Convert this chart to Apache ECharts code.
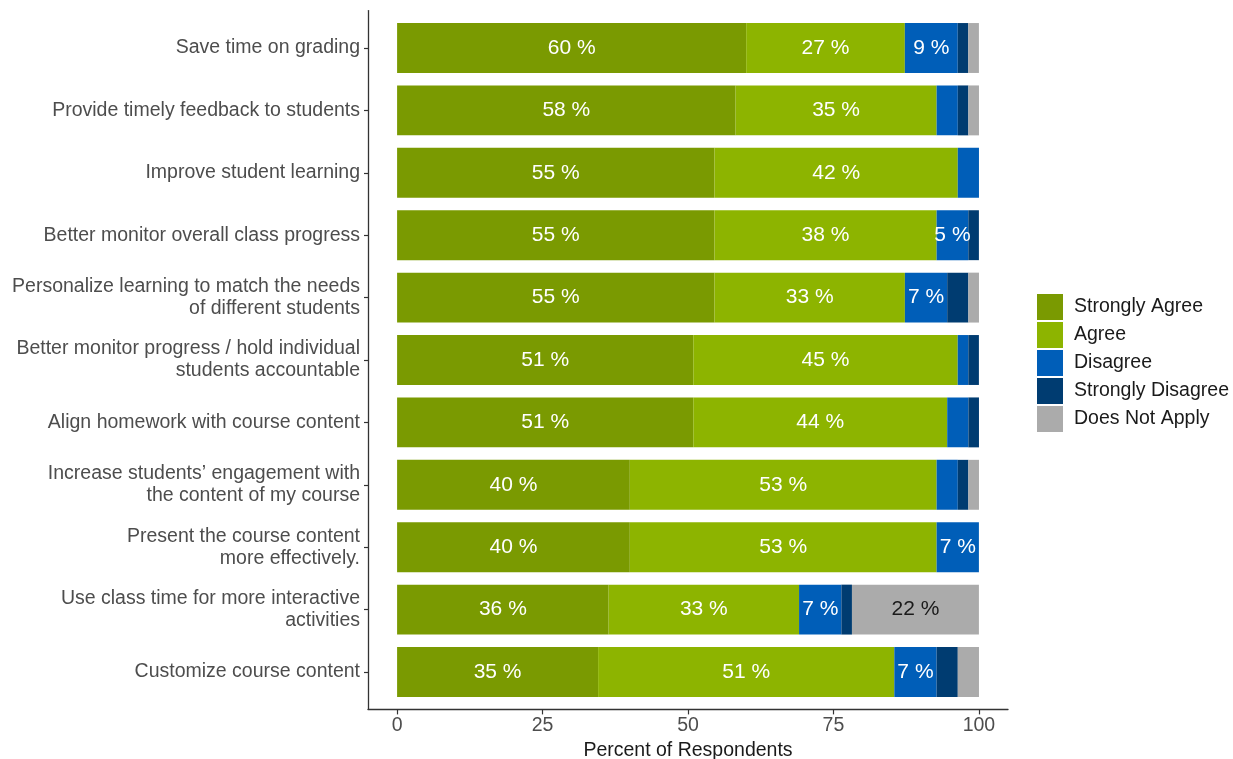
<!DOCTYPE html>
<html>
<head>
<meta charset="utf-8">
<script src="https://cdn.jsdelivr.net/npm/echarts@6/dist/echarts.min.js"></script>
<style>
  html, body { margin: 0; padding: 0; background: #ffffff; }
  #chart { width: 1233px; height: 759px; }
</style>
</head>
<body>
<div id="chart"></div>
<script>
// Survey statements, listed top to bottom
const statements = [
  'Save time on grading',
  'Provide timely feedback to students',
  'Improve student learning',
  'Better monitor overall class progress',
  'Personalize learning to match the needs\nof different students',
  'Better monitor progress / hold individual\nstudents accountable',
  'Align homework with course content',
  'Increase students\u2019 engagement with\nthe content of my course',
  'Present the course content\nmore effectively.',
  'Use class time for more interactive\nactivities',
  'Customize course content'
];

// Percent of respondents per response level
const stronglyAgree    = [60.00, 58.18, 54.55, 54.55, 54.55, 50.91, 50.91, 40.00, 40.00, 36.36, 34.55];
const agree            = [27.27, 34.55, 41.82, 38.18, 32.73, 45.45, 43.64, 52.73, 52.73, 32.73, 50.91];
const disagree         = [ 9.09,  3.64,  3.64,  5.45,  7.27,  1.82,  3.64,  3.64,  7.27,  7.27,  7.27];
const stronglyDisagree = [ 1.82,  1.82,  0.00,  1.82,  3.64,  1.82,  1.82,  1.82,  0.00,  1.82,  3.64];
const doesNotApply     = [ 1.82,  1.82,  0.00,  0.00,  1.82,  0.00,  0.00,  1.82,  0.00, 21.82,  3.64];

const xTicks = [0, 25, 50, 75, 100];

const levels = [
  { name: 'Strongly Agree',    data: stronglyAgree,    color: '#7A9A01', text: '#ffffff' },
  { name: 'Agree',             data: agree,            color: '#8DB400', text: '#ffffff' },
  { name: 'Disagree',          data: disagree,         color: '#005EB8', text: '#ffffff' },
  { name: 'Strongly Disagree', data: stronglyDisagree, color: '#003C71', text: '#ffffff' },
  { name: 'Does Not Apply',    data: doesNotApply,     color: '#ABABAB', text: '#1a1a1a' }
];

const FONT = '"Liberation Sans", Arial, sans-serif';
const FS = 19.5;
const chart = echarts.init(document.getElementById('chart'), null, { renderer: 'canvas' });

const option = {
  animation: false,
  textStyle: { fontFamily: FONT },
  legend: {
    orient: 'vertical',
    left: 1037,
    top: 294,
    padding: 0,
    itemWidth: 26,
    itemHeight: 26,
    itemGap: 2,
    icon: 'rect',
    selectedMode: false,
    textStyle: { fontSize: FS, color: '#1a1a1a', fontFamily: FONT, padding: [0, 0, 0, 6] },
    data: levels.map(l => l.name)
  },
  grid: [
    // bars
    { left: 368, right: 225, top: 16.8, bottom: 55.8, outerBoundsMode: 'none', containLabel: false },
    // axis frame (extends by 0.6 of a band above and below)
    { left: 368, right: 225, top: 10.6, bottom: 49.6, outerBoundsMode: 'none', containLabel: false }
  ],
  xAxis: [
    { gridIndex: 0, type: 'value', min: -5, max: 105, show: false },
    {
      gridIndex: 1, type: 'value', min: -5, max: 105,
      position: 'bottom',
      axisLine: { show: true, onZero: false, lineStyle: { color: '#333333', width: 1.3 } },
      axisTick: { show: true, customValues: xTicks, length: 5, lineStyle: { color: '#333333', width: 1.2 } },
      axisLabel: { customValues: xTicks, color: '#4D4D4D', fontSize: FS, margin: 6, fontFamily: FONT },
      splitLine: { show: false },
      name: 'Percent of Respondents',
      nameLocation: 'middle',
      nameGap: 28,
      nameTextStyle: { color: '#1a1a1a', fontSize: FS, fontFamily: FONT }
    }
  ],
  yAxis: [
    {
      gridIndex: 0, type: 'category', inverse: true,
      position: 'left',
      data: statements,
      axisLine: { show: false, onZero: false },
      axisTick: { show: true, alignWithLabel: true, length: 4, lineStyle: { color: '#333333', width: 1.2 } },
      axisLabel: { color: '#4D4D4D', fontSize: FS, lineHeight: 22, margin: 8, align: 'right', fontFamily: FONT },
      splitLine: { show: false }
    },
    {
      gridIndex: 1, type: 'value', min: 0, max: 1,
      position: 'left',
      axisLine: { show: true, onZero: false, lineStyle: { color: '#333333', width: 1.3 } },
      axisTick: { show: false },
      axisLabel: { show: false },
      splitLine: { show: false }
    }
  ],
  series: levels.map(l => ({
    name: l.name,
    type: 'bar',
    stack: 'total',
    xAxisIndex: 0,
    yAxisIndex: 0,
    barWidth: '80%',
    itemStyle: { color: l.color },
    label: {
      show: true,
      position: 'inside',
      color: l.text,
      fontSize: 21,
      fontFamily: FONT,
      formatter: p => (p.value >= 5 ? Math.round(p.value) + ' %' : '')
    },
    data: l.data
  }))
};

chart.setOption(option);
</script>
</body>
</html>
